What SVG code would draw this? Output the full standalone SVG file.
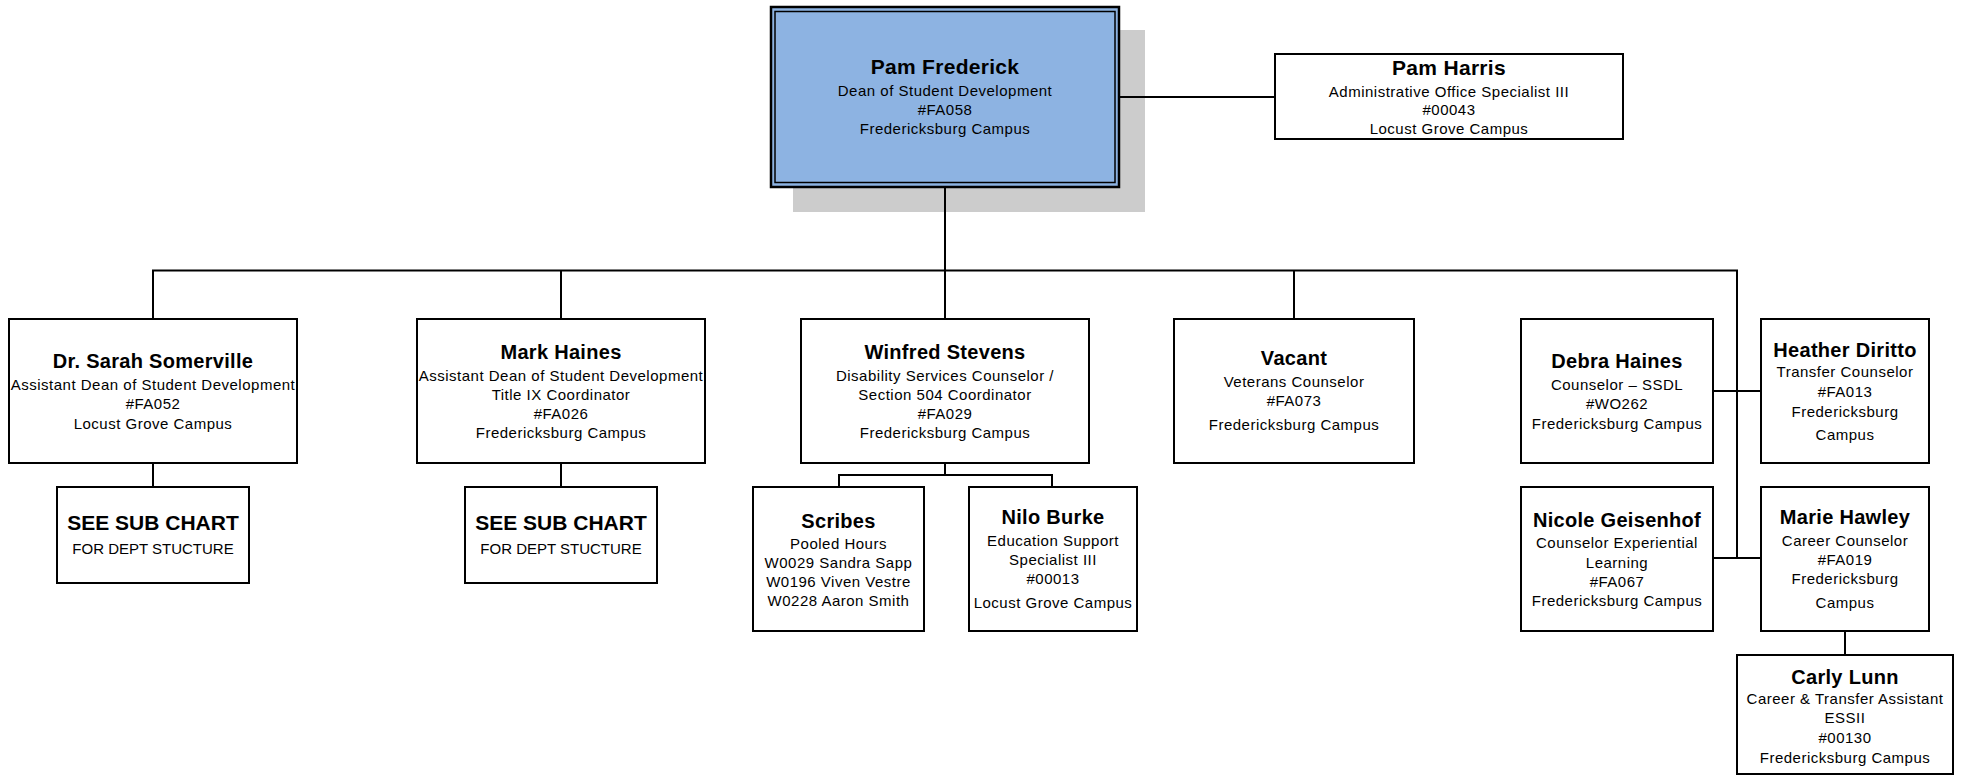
<svg xmlns="http://www.w3.org/2000/svg" width="1962" height="775" viewBox="0 0 1962 775">
<style>
  .box { fill: #ffffff; stroke: #000000; stroke-width: 2; }
  .conn { fill: none; stroke: #000000; stroke-width: 2; }
  text { font-family: "Liberation Sans", Arial, sans-serif; fill: #000000; text-anchor: middle; }
  .n { font-size: 20px; font-weight: bold; letter-spacing: 0.3px; }
  .t { font-size: 15px; letter-spacing: 0.5px; }
  .s { font-size: 21px; font-weight: bold; }
</style>
<rect width="1962" height="775" fill="#ffffff"/>

<g id="pam-frederick">
  <rect x="793" y="30" width="352" height="182" fill="#cccccc"/>
  <rect x="771" y="7" width="348" height="180" fill="#8db3e2" stroke="#000000" stroke-width="2.5"/>
  <rect x="775" y="11.5" width="340" height="171" fill="none" stroke="#000000" stroke-width="1.5"/>
  <text class="n" x="945" y="74" style="font-size:21px">Pam Frederick</text>
  <text class="t" x="945" y="96">Dean of Student Development</text>
  <text class="t" x="945" y="115">#FA058</text>
  <text class="t" x="945" y="133.5">Fredericksburg Campus</text>
</g>

<g id="pam-harris">
  <rect class="box" x="1275" y="54" width="348" height="85"/>
  <text class="n" x="1449" y="75" style="font-size:21px">Pam Harris</text>
  <text class="t" x="1449" y="96.5">Administrative Office Specialist III</text>
  <text class="t" x="1449" y="115">#00043</text>
  <text class="t" x="1449" y="134">Locust Grove Campus</text>
</g>

<g id="sarah-somerville">
  <rect class="box" x="9" y="319" width="288" height="144"/>
  <text class="n" x="153" y="368">Dr. Sarah Somerville</text>
  <text class="t" x="153" y="390">Assistant Dean of Student Development</text>
  <text class="t" x="153" y="409">#FA052</text>
  <text class="t" x="153" y="429">Locust Grove Campus</text>
</g>

<g id="sarah-subchart">
  <rect class="box" x="57" y="487" width="192" height="96"/>
  <text class="s" x="153" y="530">SEE SUB CHART</text>
  <text class="t" x="153" y="554" style="letter-spacing:0">FOR DEPT STUCTURE</text>
</g>

<g id="mark-haines">
  <rect class="box" x="417" y="319" width="288" height="144"/>
  <text class="n" x="561" y="359">Mark Haines</text>
  <text class="t" x="561" y="381">Assistant Dean of Student Development</text>
  <text class="t" x="561" y="400">Title IX Coordinator</text>
  <text class="t" x="561" y="418.5">#FA026</text>
  <text class="t" x="561" y="437.5">Fredericksburg Campus</text>
</g>

<g id="mark-subchart">
  <rect class="box" x="465" y="487" width="192" height="96"/>
  <text class="s" x="561" y="530">SEE SUB CHART</text>
  <text class="t" x="561" y="554" style="letter-spacing:0">FOR DEPT STUCTURE</text>
</g>

<g id="winfred-stevens">
  <rect class="box" x="801" y="319" width="288" height="144"/>
  <text class="n" x="945" y="359">Winfred Stevens</text>
  <text class="t" x="945" y="381">Disability Services Counselor /</text>
  <text class="t" x="945" y="400">Section 504 Coordinator</text>
  <text class="t" x="945" y="418.5">#FA029</text>
  <text class="t" x="945" y="437.5">Fredericksburg Campus</text>
</g>

<g id="scribes">
  <rect class="box" x="753" y="487" width="171" height="144"/>
  <text class="n" x="838.5" y="528">Scribes</text>
  <text class="t" x="838.5" y="549">Pooled Hours</text>
  <text class="t" x="838.5" y="568">W0029 Sandra Sapp</text>
  <text class="t" x="838.5" y="587">W0196 Viven Vestre</text>
  <text class="t" x="838.5" y="606">W0228 Aaron Smith</text>
</g>

<g id="nilo-burke">
  <rect class="box" x="969" y="487" width="168" height="144"/>
  <text class="n" x="1053" y="524">Nilo Burke</text>
  <text class="t" x="1053" y="546">Education Support</text>
  <text class="t" x="1053" y="565">Specialist III</text>
  <text class="t" x="1053" y="584">#00013</text>
  <text class="t" x="1053" y="608">Locust Grove Campus</text>
</g>

<g id="vacant">
  <rect class="box" x="1174" y="319" width="240" height="144"/>
  <text class="n" x="1294" y="365">Vacant</text>
  <text class="t" x="1294" y="387">Veterans Counselor</text>
  <text class="t" x="1294" y="406">#FA073</text>
  <text class="t" x="1294" y="430">Fredericksburg Campus</text>
</g>

<g id="debra-haines">
  <rect class="box" x="1521" y="319" width="192" height="144"/>
  <text class="n" x="1617" y="368">Debra Haines</text>
  <text class="t" x="1617" y="390">Counselor – SSDL</text>
  <text class="t" x="1617" y="409">#WO262</text>
  <text class="t" x="1617" y="429">Fredericksburg Campus</text>
</g>

<g id="heather-diritto">
  <rect class="box" x="1761" y="319" width="168" height="144"/>
  <text class="n" x="1845" y="357">Heather Diritto</text>
  <text class="t" x="1845" y="377">Transfer Counselor</text>
  <text class="t" x="1845" y="397">#FA013</text>
  <text class="t" x="1845" y="417">Fredericksburg</text>
  <text class="t" x="1845" y="440">Campus</text>
</g>

<g id="nicole-geisenhof">
  <rect class="box" x="1521" y="487" width="192" height="144"/>
  <text class="n" x="1617" y="527">Nicole Geisenhof</text>
  <text class="t" x="1617" y="548">Counselor Experiential</text>
  <text class="t" x="1617" y="568">Learning</text>
  <text class="t" x="1617" y="587">#FA067</text>
  <text class="t" x="1617" y="606">Fredericksburg Campus</text>
</g>

<g id="marie-hawley">
  <rect class="box" x="1761" y="487" width="168" height="144"/>
  <text class="n" x="1845" y="524">Marie Hawley</text>
  <text class="t" x="1845" y="546">Career Counselor</text>
  <text class="t" x="1845" y="565">#FA019</text>
  <text class="t" x="1845" y="584">Fredericksburg</text>
  <text class="t" x="1845" y="608">Campus</text>
</g>

<g id="carly-lunn">
  <rect class="box" x="1737" y="655" width="216" height="119"/>
  <text class="n" x="1845" y="684">Carly Lunn</text>
  <text class="t" x="1845" y="704">Career &amp; Transfer Assistant</text>
  <text class="t" x="1845" y="723">ESSII</text>
  <text class="t" x="1845" y="743">#00130</text>
  <text class="t" x="1845" y="763">Fredericksburg Campus</text>
</g>

<g id="connectors">
  <line class="conn" x1="1120" y1="97" x2="1275" y2="97"/>
  <line class="conn" x1="945" y1="188" x2="945" y2="319"/>
  <line class="conn" x1="152" y1="270.5" x2="1738" y2="270.5"/>
  <line class="conn" x1="153" y1="270" x2="153" y2="319"/>
  <line class="conn" x1="561" y1="270" x2="561" y2="319"/>
  <line class="conn" x1="1294" y1="270" x2="1294" y2="319"/>
  <line class="conn" x1="1737" y1="270" x2="1737" y2="559"/>
  <line class="conn" x1="1713" y1="391" x2="1761" y2="391"/>
  <line class="conn" x1="1713" y1="558" x2="1761" y2="558"/>
  <line class="conn" x1="153" y1="463" x2="153" y2="487"/>
  <line class="conn" x1="561" y1="463" x2="561" y2="487"/>
  <polyline class="conn" points="945,463 945,475"/>
  <polyline class="conn" points="839,487 839,475 1052,475 1052,487"/>
  <line class="conn" x1="1845" y1="631" x2="1845" y2="655"/>
</g>
</svg>
